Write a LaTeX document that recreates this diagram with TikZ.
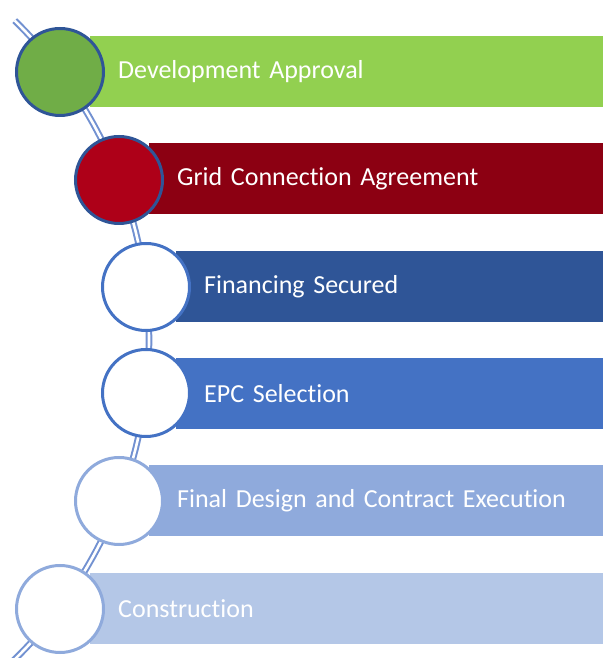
\documentclass[tikz,border=0pt]{standalone}
\usepackage{fontspec}
\setmainfont{Carlito}[Ligatures=NoCommon]
\usetikzlibrary{positioning, calc}

\definecolor{ApprovalBar}{HTML}{92D050}
\definecolor{ApprovalDot}{HTML}{70AD47}
\definecolor{GridBar}{HTML}{8C0012}
\definecolor{GridDot}{HTML}{AE0018}
\definecolor{DarkBlue}{HTML}{2F5597}
\definecolor{MidBlue}{HTML}{4472C4}
\definecolor{SoftBlue}{HTML}{8FAADC}
\definecolor{PaleBlue}{HTML}{B4C7E7}
\definecolor{TrackBlue}{HTML}{7291D1}

\tikzset{
  stage/.style={draw=none, rectangle, anchor=west, minimum height=71pt,
    inner xsep=28pt, inner ysep=0pt, align=left, text=white,
    font=\fontsize{26}{30}\selectfont},
  dot/.style={circle, minimum size=87pt, inner sep=0pt, outer sep=0pt, line width=3pt},
  track/.style={draw=TrackBlue, line width=2pt, double=white, double distance=2.6pt}
}

\begin{document}
\begin{tikzpicture}[x=1pt, y=1pt]
        \useasboundingbox (0,0) rectangle (608,658);
        \clip (0,0) rectangle (608,658);

        % track behind the stages
        \draw[track] (-298,318) ++(45.6:447) arc[start angle=45.6, end angle=-48, radius=447];

        % bars
        \node[stage, fill=ApprovalBar, minimum width=513pt, text width=457pt] (barA) at (90,586) {Development Approval};
        \node[stage, fill=GridBar,     minimum width=454pt, text width=398pt] (barB) at (149,479) {Grid Connection Agreement};
        \node[stage, fill=DarkBlue,    minimum width=427pt, text width=371pt] (barC) at (176,371) {Financing Secured};
        \node[stage, fill=MidBlue,     minimum width=427pt, text width=371pt] (barD) at (176,264) {EPC Selection};
        \node[stage, fill=SoftBlue,    minimum width=454pt, text width=398pt] (barE) at (149,157) {Final Design and Contract Execution};
        \node[stage, fill=PaleBlue,    minimum width=513pt, text width=457pt] (barF) at (90,49) {Construction};

        % dots
        \node[dot, draw=DarkBlue, fill=ApprovalDot] (dotA) at (60,586) {};
        \node[dot, draw=DarkBlue, fill=GridDot]     (dotB) at (119,478) {};
        \node[dot, draw=MidBlue,  fill=white]       (dotC) at (146,371) {};
        \node[dot, draw=MidBlue,  fill=white]       (dotD) at (146,265) {};
        \node[dot, draw=SoftBlue, fill=white]       (dotE) at (119,157) {};
        \node[dot, draw=SoftBlue, fill=white]       (dotF) at (60,49) {};
    \end{tikzpicture}
\end{document}
